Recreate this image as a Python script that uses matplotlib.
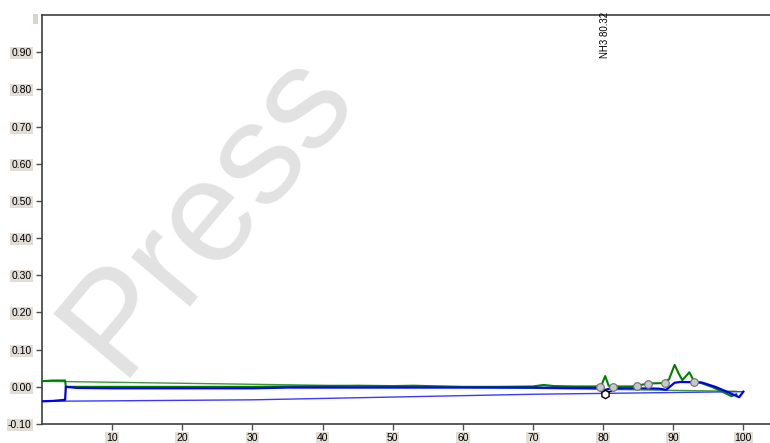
import matplotlib
matplotlib.use("Agg")
import matplotlib.pyplot as plt

plt.rcParams['font.family'] = ['Liberation Sans', 'DejaVu Sans']

# Green trace (main)
green_x = [0, 1.5, 3.3, 3.4, 10, 20, 30, 35, 40, 45, 50, 53, 55, 60, 65, 70, 71.5, 73, 76, 79, 79.8, 80.3, 80.8, 81.5, 84, 85, 86.3, 88.5, 89.4, 90.2, 90.8, 91.3, 92.3, 93.0, 94, 95.5, 97, 98.3, 99.0]
green_y = [0.015, 0.017, 0.017, 0.0, 0.0, 0.0, 0.0, 0.001, 0.002, 0.003, 0.002, 0.003, 0.002, 0.0, 0.0, 0.001, 0.005, 0.002, 0.001, 0.001, 0.005, 0.029, 0.003, 0.001, 0.001, 0.003, 0.009, 0.010, 0.020, 0.059, 0.035, 0.018, 0.039, 0.014, 0.010, 0.0, -0.013, -0.025, -0.020]
# Green return line
green_ret_x = [99.0, 0]
green_ret_y = [-0.012, 0.015]

# Blue trace (main)
blue_x = [0, 1.5, 3.3, 3.4, 5, 10, 20, 30, 35, 40, 50, 60, 70, 75, 79.5, 80.3, 81.0, 85, 88, 89, 90.2, 91, 94, 96, 98, 99.4, 100]
blue_y = [-0.039, -0.038, -0.035, 0.0, -0.003, -0.004, -0.004, -0.004, -0.002, -0.002, -0.002, -0.002, -0.002, -0.003, -0.003, -0.009, -0.004, -0.004, -0.005, -0.008, 0.011, 0.013, 0.012, 0.0, -0.016, -0.028, -0.013]
# Blue return line
blue_ret_x = [100, 70, 30, 0]
blue_ret_y = [-0.013, -0.020, -0.035, -0.039]

# Peak markers
circ_x = [79.6, 81.4, 84.9, 86.4, 88.9, 93.0]
circ_y = [0.000, 0.000, 0.002, 0.008, 0.010, 0.014]

xticks = [10, 20, 30, 40, 50, 60, 70, 80, 90, 100]
yticks = [-0.10, 0.00, 0.10, 0.20, 0.30, 0.40, 0.50, 0.60, 0.70, 0.80, 0.90]

annot_x = 80.32
annot_label = "NH3 80.32"

fig = plt.figure(figsize=(7.7, 4.43), dpi=100)
ax = fig.add_axes([0.0545, 0.0429, 0.9455, 0.923])
ax.patch.set_alpha(0)

# watermark
fig.text(0.27, 0.52, "Press", fontsize=104, color="#e2e2e2", rotation=50,
         ha="center", va="center", zorder=-5, family="Liberation Sans")

ax.plot(green_ret_x, green_ret_y, color="#3a9a3a", lw=1.0, zorder=2)
ax.plot(blue_ret_x, blue_ret_y, color="#3a3aff", lw=1.0, zorder=2)
ax.plot(green_x, green_y, color="#008000", lw=1.5, zorder=3)
ax.plot(blue_x, blue_y, color="#0000ee", lw=1.6, zorder=4)

# black box marker near 80
ax.plot([79.6, 79.6, 81.2, 81.2], [0.0, -0.011, -0.011, 0.0], color="black", lw=1.0, zorder=5)
ax.plot([80.3], [-0.018], marker="h", ms=6, mfc="white", mec="black", mew=1.0, zorder=6)
ax.plot(circ_x, circ_y, ls="none", marker="o", ms=5.5, mfc="#c8c8c8", mec="#707070", mew=0.8, zorder=6)

ax.text(annot_x, 1.01, annot_label, rotation=90, ha="center", va="top", fontsize=7, clip_on=False)

ax.set_xlim(0, 103.8)
ax.set_ylim(-0.10, 1.0)
ax.set_xticks(xticks)
ax.set_yticks(yticks)
ax.set_xticklabels([str(t) for t in xticks])
ax.set_yticklabels([f"{t:.2f}" for t in yticks])
for lab in ax.get_xticklabels() + ax.get_yticklabels():
    lab.set_bbox(dict(boxstyle="square,pad=0.1", fc="#e2ddd6", ec="none"))
ax.tick_params(labelsize=7.5, length=4, width=1, color="#505050")
ax.tick_params(axis="x", pad=2.5)
for s in ["left", "bottom", "top"]:
    ax.spines[s].set_color("#404040")
    ax.spines[s].set_linewidth(1.2)
ax.spines["right"].set_visible(False)

# small gray rectangle at top-left
fig.patches.append(plt.Rectangle((33/770, 1 - 24/443), 5/770, 10/443, transform=fig.transFigure,
                                 fc="#d8d4cc", ec="none"))

fig.savefig("out.png", dpi=100)
